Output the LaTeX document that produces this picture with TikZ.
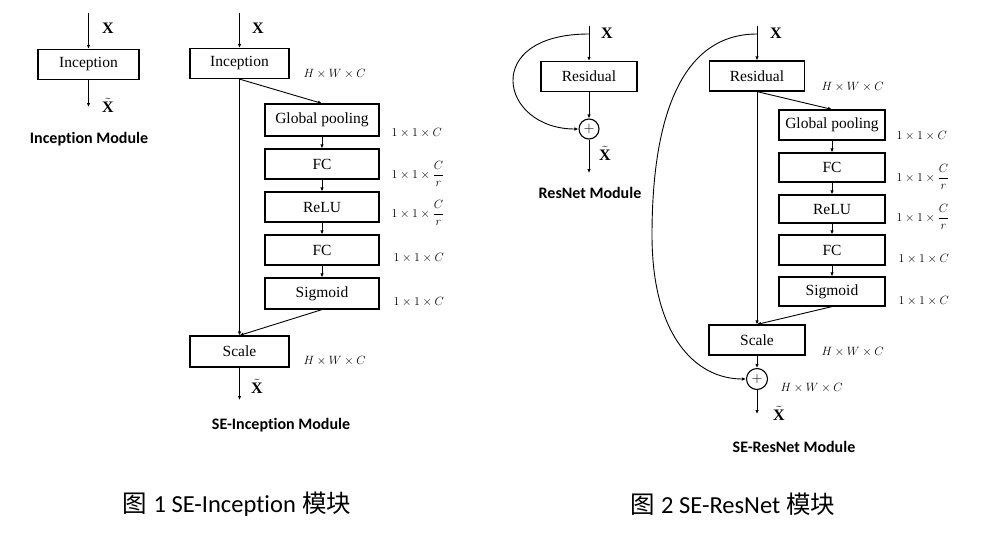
\documentclass[tikz,border=0pt]{standalone}
\usepackage{fontspec}
\setmainfont{Liberation Serif}
\newfontfamily\capfont{Carlito}[Ligatures=NoCommon]
\newfontfamily\cjk{Noto Sans CJK SC}
\usetikzlibrary{arrows.meta}
\begin{document}
\begin{tikzpicture}[x=1pt,y=-1pt,
    blk/.style={draw,line width=1.2pt,inner sep=0pt,minimum height=30pt,font=\fontsize{15.5}{17}\selectfont},
    sum/.style={draw,circle,line width=1.1pt,inner sep=0pt,minimum size=20pt,font=\fontsize{14}{16}\selectfont},
    flow/.style={line width=0.9pt,-{Latex[length=4pt,width=3.5pt]}},
    dim/.style={anchor=west,font=\fontsize{12.5}{14}\selectfont},
    sig/.style={font=\fontsize{16}{18}\selectfont\bfseries},
    ttl/.style={font=\fontsize{16}{18}\selectfont\capfont\bfseries},
    figcap/.style={font=\fontsize{24.5}{28}\selectfont}]
    \useasboundingbox (0,0) rectangle (995,541);
    \coordinate (xA) at (88.5,13);
    \node[blk,minimum width=101pt] (incA) at (88.5,64.5) {Inception};
    \coordinate (outA) at (88.5,107);
    \draw[flow] (xA) -- (incA);
    \draw[flow] (incA) -- (outA);
    \node[sig] at (108,28) {X};
    \node[sig] at (108,105) {$\tilde{\hbox{\bfseries X}}$};
    \node[ttl] at (89,139) {Inception Module};
    \coordinate (xB) at (239.5,13);
    \node[blk,minimum width=99pt] (incB) at (239.5,63.5) {Inception};
    \node[blk,minimum width=114pt,minimum height=32pt] (gpB) at (322,120) {Global pooling};
    \node[blk,minimum width=114pt] (fc1B) at (322,164) {FC};
    \node[blk,minimum width=114pt] (reluB) at (322,207) {ReLU};
    \node[blk,minimum width=114pt] (fc2B) at (322,250) {FC};
    \node[blk,minimum width=114pt,minimum height=31pt] (sigB) at (322,293.5) {Sigmoid};
    \node[blk,minimum width=99pt,minimum height=31pt] (scaleB) at (239.5,351.5) {Scale};
    \coordinate (outB) at (239.5,400);
    \draw[flow] (xB) -- (incB);
    \draw[flow] (incB.south) -- (gpB.north);
    \draw[flow] (gpB) -- (fc1B);
    \draw[flow] (fc1B) -- (reluB);
    \draw[flow] (reluB) -- (fc2B);
    \draw[flow] (fc2B) -- (sigB);
    \draw[flow] (incB.south) -- (scaleB.north);
    \draw[flow] (sigB.south) -- (scaleB.north);
    \draw[flow] (scaleB) -- (outB);
    \node[sig] at (258,28) {X};
    \node[sig] at (257,386) {$\tilde{\hbox{\bfseries X}}$};
    \node[dim] at (300,74) {$H\times W\times C$};
    \node[dim] at (388,133) {$1\times1\times C$};
    \node[dim] at (388,174) {$1\times1\times{\displaystyle\frac{C}{r}}$};
    \node[dim] at (388,213) {$1\times1\times{\displaystyle\frac{C}{r}}$};
    \node[dim] at (390,258) {$1\times1\times C$};
    \node[dim] at (390,302) {$1\times1\times C$};
    \node[dim] at (300,361) {$H\times W\times C$};
    \node[ttl] at (281,425) {SE-Inception Module};
    \node[figcap] at (237,504) {{\cjk 图} {\capfont 1 SE-Inception} {\cjk 模块}};
    \coordinate (xC) at (589,26);
    \coordinate (spC) at (589,34);
    \node[blk,minimum width=96pt] (resC) at (589,76.5) {Residual};
    \node[sum] (plusC) at (589,129) {$+$};
    \coordinate (outC) at (589,173);
    \draw[flow] (xC) -- (resC);
    \draw[flow] (resC) -- (plusC);
    \draw[flow] (plusC) -- (outC);
    \draw[flow] (spC) .. controls (480,34) and (500,129) .. (plusC.west);
    \node[sig] at (607,33) {X};
    \node[sig] at (605,153) {$\tilde{\hbox{\bfseries X}}$};
    \node[ttl] at (590,193) {ResNet Module};
    \coordinate (xD) at (757,26);
    \coordinate (spD) at (757,34);
    \coordinate (bendD) at (652,235);
    \node[blk,minimum width=95pt] (resD) at (757,76) {Residual};
    \node[blk,minimum width=106pt] (gpD) at (832,125) {Global pooling};
    \node[blk,minimum width=106pt,minimum height=29pt] (fc1D) at (832,167.5) {FC};
    \node[blk,minimum width=106pt,minimum height=28pt] (reluD) at (832,209) {ReLU};
    \node[blk,minimum width=106pt] (fc2D) at (832,250) {FC};
    \node[blk,minimum width=106pt,minimum height=29pt] (sigD) at (832,291.5) {Sigmoid};
    \node[blk,minimum width=96pt] (scaleD) at (757,340) {Scale};
    \node[sum,minimum size=21pt] (plusD) at (757,379) {$+$};
    \coordinate (outD) at (757,414);
    \draw[flow] (xD) -- (resD);
    \draw[flow] (resD.south) -- (gpD.north);
    \draw[flow] (gpD) -- (fc1D);
    \draw[flow] (fc1D) -- (reluD);
    \draw[flow] (reluD) -- (fc2D);
    \draw[flow] (fc2D) -- (sigD);
    \draw[flow] (resD.south) -- (scaleD.north);
    \draw[flow] (sigD.south) -- (scaleD.north);
    \draw[flow] (scaleD) -- (plusD);
    \draw[flow] (plusD) -- (outD);
    \draw[flow] (spD) .. controls (680,34) and (652,120) .. (bendD) .. controls (652,335) and (695,379) .. (plusD.west);
    \node[sig] at (776,33) {X};
    \node[sig] at (779,413) {$\tilde{\hbox{\bfseries X}}$};
    \node[dim] at (818,87) {$H\times W\times C$};
    \node[dim] at (893,136) {$1\times1\times C$};
    \node[dim] at (893,177) {$1\times1\times{\displaystyle\frac{C}{r}}$};
    \node[dim] at (893,217) {$1\times1\times{\displaystyle\frac{C}{r}}$};
    \node[dim] at (895,259) {$1\times1\times C$};
    \node[dim] at (895,301) {$1\times1\times C$};
    \node[dim] at (818,352) {$H\times W\times C$};
    \node[dim] at (777,388) {$H\times W\times C$};
    \node[ttl] at (794,447) {SE-ResNet Module};
    \node[figcap] at (733,504) {{\cjk 图} {\capfont 2 SE-ResNet} {\cjk 模块}};
\end{tikzpicture}
\end{document}
